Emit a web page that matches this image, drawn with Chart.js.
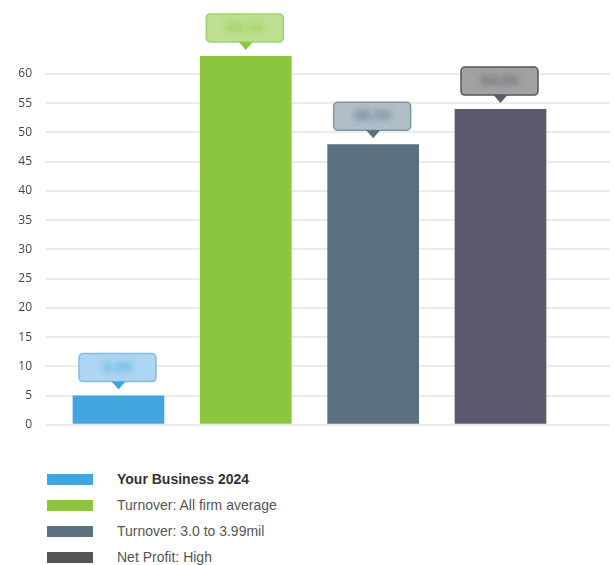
<!DOCTYPE html>
<html>
<head>
<meta charset="utf-8">
<script src="https://cdn.jsdelivr.net/npm/chart.js@4/dist/chart.umd.min.js"></script>
<style>
  body { margin: 0; background: #fff; width: 614px; height: 565px; overflow: hidden; position: relative; }
  #wrap { position: absolute; left: 0; top: 0; width: 614px; height: 445px; }
  #legend { position: absolute; left: 47px; top: 466px; font-family: "Liberation Sans", Arial, sans-serif; font-size: 14px; color: #555; }
  .row { height: 26px; display: flex; align-items: center; }
  .sw { width: 46px; height: 11px; margin-right: 24px; }
  .row.first { font-weight: bold; color: #333; }
</style>
</head>
<body>
<div id="wrap"><canvas id="chart"></canvas></div>
<div id="legend"></div>
<script>
// data
var categories = ["Your Business 2024", "Turnover: All firm average", "Turnover: 3.0 to 3.99mil", "Net Profit: High"];
var values = [5, 63.1, 48, 54];
var yTicks = [0, 5, 10, 15, 20, 25, 30, 35, 40, 45, 50, 55, 60];

// styles
var barColors = ["#42a5e0", "#8cc63f", "#5a707f", "#5a5a6c"];
var legendColors = ["#42a5e0", "#8cc63f", "#5b717f", "#555555"];
var boxFills = ["#acd6f1", "#bde092", "#b0bec8", "#a2a2a2"];
var boxEdges = ["#7fbde6", "#9fd168", "#7f95a3", "#555555"];

/** Draws the blurred value bubbles above each bar */
var bubbles = {
    id: "bubbles",
    afterDatasetsDraw: function(chart) {
        var ctx = chart.ctx;
        var meta = chart.getDatasetMeta(0);
        meta.data.forEach(function(bar, i) {
            var w = 77, h = 28;
            var bottom = bar.y - 14;
            var left = bar.x - w / 2 - 1;
            ctx.save();
            ctx.beginPath();
            ctx.roundRect(left, bottom - h, w, h, 4);
            ctx.fillStyle = boxFills[i];
            ctx.fill();
            ctx.lineWidth = 1.5;
            ctx.strokeStyle = boxEdges[i];
            ctx.stroke();
            // arrow
            ctx.beginPath();
            ctx.moveTo(bar.x - 7, bottom);
            ctx.lineTo(bar.x + 7, bottom);
            ctx.lineTo(bar.x, bottom + 8);
            ctx.closePath();
            ctx.fillStyle = barColors[i];
            ctx.fill();
            // blurred value text
            ctx.filter = "blur(3px)";
            ctx.fillStyle = barColors[i];
            ctx.globalAlpha = 0.8;
            ctx.font = "bold 15px 'Liberation Sans', Arial, sans-serif";
            ctx.textAlign = "center";
            ctx.textBaseline = "middle";
            ctx.fillText(values[i].toFixed(2), left + w / 2, bottom - h / 2);
            ctx.restore();
        });
    }
};

var chart = new Chart(document.getElementById("chart"), {
    type: "bar",
    data: {
        datasets: [{
            data: values.map(function(v, i) { return { x: i, y: v }; }),
            backgroundColor: barColors,
            borderWidth: 0,
            clip: false
        }]
    },
    options: {
        responsive: true,
        maintainAspectRatio: false,
        animation: false,
        layout: { padding: { top: 74, right: 4, bottom: 11, left: 0 } },
        plugins: { legend: { display: false }, tooltip: { enabled: false } },
        scales: {
            x: {
                type: "linear",
                display: false,
                offset: false,
                grid: { offset: false },
                min: -0.577,
                max: 3.86,
                afterBuildTicks: function(scale) {
                    scale.ticks = categories.map(function(c, i) { return { value: i }; });
                }
            },
            y: {
                min: 0,
                max: 60,
                afterBuildTicks: function(scale) {
                    scale.ticks = yTicks.map(function(v) { return { value: v }; });
                },
                afterFit: function(scale) { scale.width = 45; },
                border: { display: false },
                grid: { color: "#ebebeb", lineWidth: 2, drawTicks: false },
                ticks: {
                    padding: 13,
                    color: "#444",
                    font: { family: "'Open Sans', sans-serif", size: 12 }
                }
            }
        }
    },
    plugins: [bubbles]
});

// legend
var legend = document.getElementById("legend");
categories.forEach(function(name, i) {
    var row = document.createElement("div");
    row.className = "row" + (i === 0 ? " first" : "");
    row.innerHTML = '<div class="sw" style="background:' + legendColors[i] + '"></div><span>' + name + '</span>';
    legend.appendChild(row);
});
</script>
</body>
</html>
